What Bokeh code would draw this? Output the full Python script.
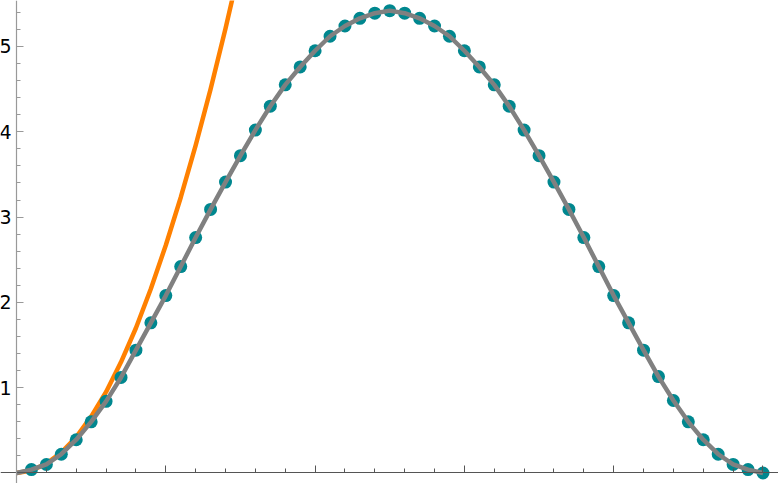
from bokeh.plotting import figure
from bokeh.models import Range1d, FixedTicker
from bokeh.embed import file_html
from bokeh.resources import INLINE
import numpy as np

# ---- data ----
X_PTS = [0.1, 0.2, 0.3, 0.4, 0.5, 0.6, 0.7, 0.8, 0.9, 1.0,
         1.1, 1.2, 1.3, 1.4, 1.5, 1.6, 1.7, 1.8, 1.9, 2.0,
         2.1, 2.2, 2.3, 2.4, 2.5, 2.6, 2.7, 2.8, 2.9, 3.0,
         3.1, 3.2, 3.3, 3.4, 3.5, 3.6, 3.7, 3.8, 3.9, 4.0,
         4.1, 4.2, 4.3, 4.4, 4.5, 4.6, 4.7, 4.8, 4.9, 5.0]
Y_PTS = [0.04, 0.10, 0.22, 0.39, 0.60, 0.84, 1.12, 1.44, 1.76, 2.08,
         2.42, 2.76, 3.09, 3.41, 3.72, 4.02, 4.30, 4.55, 4.76, 4.95,
         5.12, 5.24, 5.33, 5.39, 5.42, 5.39, 5.33, 5.24, 5.12, 4.95,
         4.76, 4.55, 4.30, 4.02, 3.72, 3.41, 3.09, 2.76, 2.42, 2.08,
         1.76, 1.44, 1.13, 0.85, 0.60, 0.39, 0.22, 0.10, 0.04, 0.0]
CURVE_START_X = [0.0]
CURVE_START_Y = [0.0]

ORANGE_X = [0.0, 0.1, 0.2, 0.3, 0.4, 0.5, 0.6, 0.7, 0.8, 0.9, 1.0,
            1.1, 1.2, 1.3, 1.4, 1.5]
ORANGE_Y = [0.0, 0.03, 0.11, 0.24, 0.42, 0.66, 0.95, 1.30, 1.70, 2.16, 2.67,
            3.23, 3.84, 4.50, 5.21, 5.97]

XTICKS = [0, 1, 2, 3, 4, 5]
YTICKS = [1, 2, 3, 4, 5]
YTICK_LABELS = ["1", "2", "3", "4", "5"]

TEAL = "#00878F"
GRAY = "#808080"
ORANGE = "#FF8000"

p = figure(width=778, height=483, output_backend="svg", toolbar_location=None,
           x_range=Range1d(-0.1072, 5.1039), y_range=Range1d(-0.1231, 5.539),
           min_border=0, min_border_left=0, min_border_right=0,
           min_border_top=0, min_border_bottom=0)
p.outline_line_color = None
p.grid.visible = False
p.background_fill_color = "white"
p.border_fill_color = "white"

# axes crossing at the origin, Mathematica style (ticks pointing inward)
p.xaxis.fixed_location = 0
p.yaxis.fixed_location = 0

minor_x = [round(v, 2) for v in np.arange(0.2, 5.11, 0.2) if abs(v - round(v)) > 1e-6]
minor_y = [round(v, 2) for v in np.arange(0.2, 5.54, 0.2) if abs(v - round(v)) > 1e-6]
p.xaxis.ticker = FixedTicker(ticks=XTICKS, minor_ticks=minor_x)
p.yaxis.ticker = FixedTicker(ticks=YTICKS, minor_ticks=minor_y)
p.xaxis.major_label_overrides = {t: "" for t in XTICKS}
p.yaxis.major_label_overrides = {t: l for t, l in zip(YTICKS, YTICK_LABELS)}

for ax, col in ((p.xaxis, "#555555"), (p.yaxis, "#999999")):
    ax.axis_line_color = col
    ax.axis_line_width = 1.2
    ax.major_tick_line_color = col
    ax.minor_tick_line_color = col
    ax.major_tick_in = 7
    ax.major_tick_out = 0
    ax.minor_tick_in = 4
    ax.minor_tick_out = 0

p.yaxis.major_label_standoff = 5
p.yaxis.major_label_text_font = "DejaVu Sans"
p.yaxis.major_label_text_font_size = "19px"
p.yaxis.major_label_text_color = "black"
p.xaxis.major_label_text_font_size = "1px"

# orange approximation curve
p.line(ORANGE_X, ORANGE_Y, line_color=ORANGE, line_width=4.5, line_join="round")
# sampled points
p.scatter(X_PTS, Y_PTS, size=13, fill_color=TEAL, line_color=None)
# gray smooth curve through the points
p.line(CURVE_START_X + X_PTS, CURVE_START_Y + Y_PTS, line_color=GRAY,
       line_width=4.5, line_join="round")

open("out.html", "w").write(file_html(p, INLINE))
